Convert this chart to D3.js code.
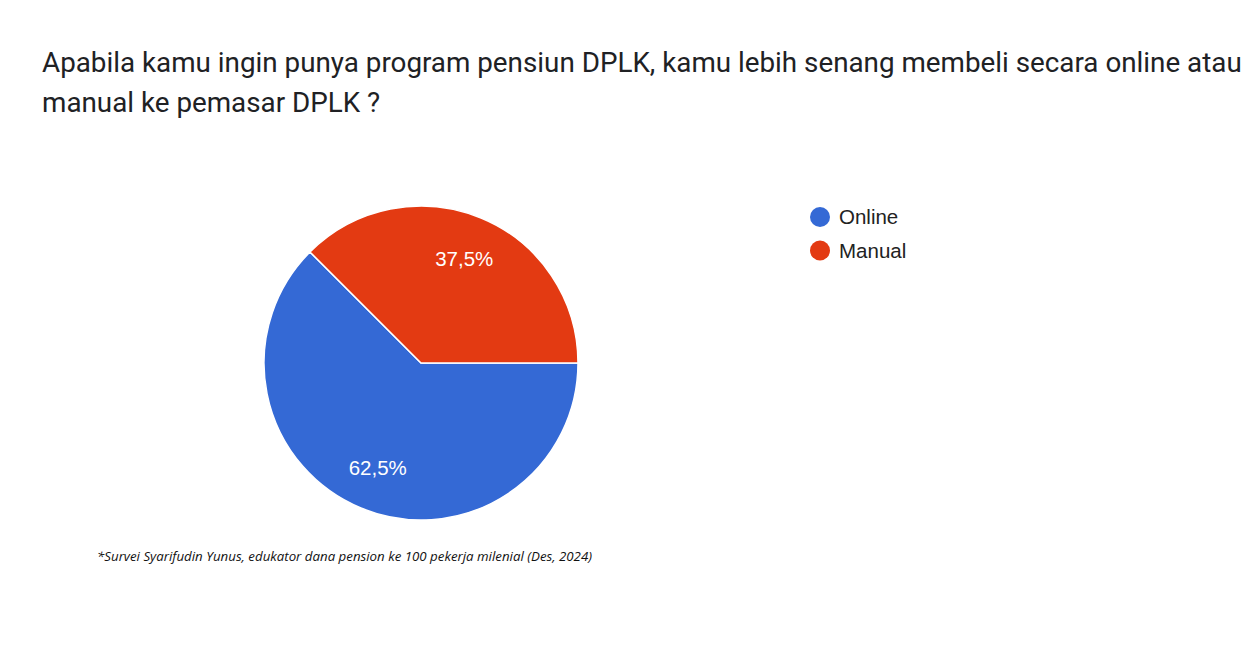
<!DOCTYPE html>
<html lang="id">
<head>
    <meta charset="utf8">
    <script type="text/javascript" src="https://d3js.org/d3.v7.min.js"></script>
    <title>Online atau manual DPLK</title>
    <style>
        body { margin: 0; background: #fff; }
    </style>
</head>
<body>
    <div class="chart"></div>
<script type="text/javascript">
    // data
    var categories = ["Online", "Manual"];
    var values = [62.5, 37.5];
    var colors = ["#3469d5", "#e33a12"];
    var titleLines = [
        "Apabila kamu ingin punya program pensiun DPLK, kamu lebih senang membeli secara online atau",
        "manual ke pemasar DPLK ?"
    ];
    var footnote = "*Survei Syarifudin Yunus, edukator dana pension ke 100 pekerja milenial (Des, 2024)";

    var width = 1251, height = 666;
    var svg = d3.select("div.chart").append("svg")
        .attr("width", width)
        .attr("height", height)
        .style("background", "#fff");

    // judul
    svg.append("g").selectAll("text")
        .data(titleLines)
        .enter().append("text")
        .attr("x", 42)
        .attr("y", function(d, i){ return 72 + i * 40; })
        .attr("font-family", "Roboto, sans-serif")
        .attr("font-size", 27.8)
        .attr("fill", "#202124")
        .text(function(d){ return d; });

    // pie
    var cx = 421, cy = 363, r = 157;
    var pie = d3.pie().sort(null)
        .startAngle(Math.PI / 2)
        .endAngle(Math.PI / 2 + 2 * Math.PI);
    var arcs = pie(values);
    var arc = d3.arc().innerRadius(0).outerRadius(r);
    var labelArc = d3.arc().innerRadius(r * 0.72).outerRadius(r * 0.72);

    var g = svg.append("g").attr("transform", "translate(" + cx + "," + cy + ")");
    g.selectAll("path")
        .data(arcs)
        .enter().append("path")
        .attr("d", arc)
        .attr("fill", function(d, i){ return colors[i]; })
        .attr("stroke", "#fff")
        .attr("stroke-width", 1.5)
        .attr("stroke-linejoin", "round");

    var fmt = function(v){ return d3.format(".1f")(v).replace(".", ",") + "%"; };
    g.selectAll("text.lbl")
        .data(arcs)
        .enter().append("text")
        .attr("class", "lbl")
        .attr("transform", function(d){ return "translate(" + labelArc.centroid(d) + ")"; })
        .attr("dy", "0.36em")
        .attr("text-anchor", "middle")
        .attr("font-family", "'Liberation Sans', Arial, sans-serif")
        .attr("font-size", 20.5)
        .attr("fill", "#fff")
        .text(function(d){ return fmt(d.data); });

    // legenda
    var legend = svg.append("g").attr("transform", "translate(820,217)");
    var item = legend.selectAll("g")
        .data(categories)
        .enter().append("g")
        .attr("transform", function(d, i){ return "translate(0," + (i * 33.5) + ")"; });
    item.append("circle")
        .attr("r", 10)
        .attr("fill", function(d, i){ return colors[i]; });
    item.append("text")
        .attr("x", 19)
        .attr("dy", "0.36em")
        .attr("font-family", "'Liberation Sans', Arial, sans-serif")
        .attr("font-size", 20.5)
        .attr("fill", "#222")
        .text(function(d){ return d; });

    // catatan kaki
    svg.append("text")
        .attr("x", 97)
        .attr("y", 561)
        .attr("font-family", "'Open Sans', sans-serif")
        .attr("font-style", "italic")
        .attr("font-size", 12)
        .attr("fill", "#111")
        .attr("textLength", 495)
        .attr("lengthAdjust", "spacingAndGlyphs")
        .text(footnote);
</script>
</body>
</html>
